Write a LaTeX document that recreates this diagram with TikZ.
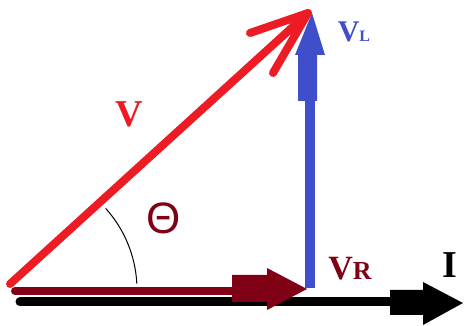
\documentclass[tikz,border=0pt]{standalone}
\usepackage{fontspec}
\setmainfont{Liberation Serif}
\newfontfamily\thetafont{Liberation Sans}
\definecolor{vred}{HTML}{ED1C24}
\definecolor{vdark}{HTML}{800015}
\definecolor{vblue}{HTML}{3F4FCB}
\begin{document}
\begin{tikzpicture}[x=1pt,y=-1pt,
  lbl/.style={inner sep=0pt,font=\bfseries},
  shaft/.style={line cap=round}]
\useasboundingbox (0,0) rectangle (464,326);
% coordinates
\coordinate (O) at (15,290);
\coordinate (Bs) at (20,302);
\coordinate (Be) at (395,302);
\coordinate (Ds) at (15,291);
\coordinate (De) at (240,291);
\coordinate (Ls) at (310,288);
\coordinate (Le) at (310,95);
\coordinate (Rs) at (10,284);
\coordinate (Rt) at (308,13);
\coordinate (Ra) at (250,33);
\coordinate (Rb) at (273,73);
% black I arrow
\draw[shaft,line width=9pt,black] (Bs) -- (Be);
\fill[black] (390,290) -- (423,290) -- (423,282) -- (463,303) -- (423,325) -- (423,315) -- (390,315) -- cycle;
% dark red VR arrow
\draw[shaft,line width=8pt,vdark] (Ds) -- (De);
\fill[vdark] (232,275) -- (267,275) -- (267,268) -- (307,289) -- (267,310) -- (267,302) -- (232,302) -- cycle;
% blue VL arrow
\draw[line width=10pt,vblue] (Ls) -- (Le);
\fill[vblue] (298,101) -- (317,101) -- (317,55) -- (325,55) -- (312,13) -- (295,55) -- (298,55) -- cycle;
% red V arrow
\draw[shaft,line join=round,line width=8pt,vred] (Rs) -- (Rt) (Ra) -- (Rt) -- (Rb);
% angle arc
\draw[line width=1pt] ([shift={(-3:122)}]O) arc[start angle=-3,end angle=-42,radius=122];
% labels
\node[lbl,text=vred,font=\bfseries\fontsize{38}{38}\selectfont] (v) at (129,114) {V};
\node[lbl,text=vblue,font=\bfseries\fontsize{30}{30}\selectfont] (vl) at (354,32) {V{\fontsize{16}{16}\selectfont L}};
\node[lbl,text=vdark,font=\bfseries\fontsize{34}{34}\selectfont] (vr) at (350,268.5) {V{\fontsize{26}{26}\selectfont R}};
\node[lbl,text=black,font=\bfseries\fontsize{38}{38}\selectfont] (i) at (450,265) {I};
\node[lbl,text=vdark,font=\thetafont\fontsize{44}{44}\selectfont] (th) at (163.5,218.5) {Θ};
\end{tikzpicture}
\end{document}
